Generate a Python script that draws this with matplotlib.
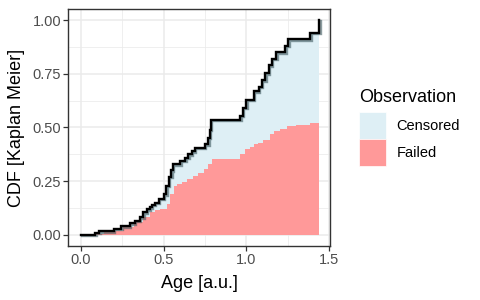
import numpy as np
import matplotlib
matplotlib.use("Agg")
from matplotlib import pyplot as plt
from matplotlib.patches import Patch
import matplotlib.patheffects as pe

plt.rcParams['font.family'] = ['Liberation Sans', 'DejaVu Sans']

km_time = [0.0, 0.088, 0.11, 0.197, 0.245, 0.296, 0.326, 0.356, 0.376, 0.397,
           0.417, 0.43, 0.447, 0.469, 0.50, 0.515, 0.53, 0.545, 0.555, 0.60,
           0.63, 0.65, 0.67, 0.69, 0.75, 0.77, 0.78, 0.786, 0.963, 0.979,
           0.999, 1.043, 1.073, 1.094, 1.114, 1.134, 1.154, 1.18, 1.234, 1.254,
           1.385, 1.44]
km_cdf = [0.0, 0.009, 0.017, 0.028, 0.040, 0.054, 0.066, 0.082, 0.105, 0.120,
          0.128, 0.140, 0.151, 0.167, 0.19, 0.23, 0.27, 0.30, 0.329, 0.344,
          0.36, 0.375, 0.39, 0.406, 0.421, 0.452, 0.49, 0.535, 0.553, 0.591,
          0.63, 0.668, 0.69, 0.72, 0.753, 0.79, 0.82, 0.849, 0.88, 0.91,
          0.94, 1.0]

# part of the CDF due to failed units
fail_time = [0.0, 0.076, 0.137, 0.2, 0.257, 0.318, 0.378, 0.419, 0.45, 0.479,
             0.519, 0.54, 0.56, 0.58, 0.61, 0.64, 0.68, 0.71, 0.741, 0.765,
             0.79, 0.963, 0.993, 1.02, 1.043, 1.07, 1.103, 1.144, 1.164, 1.204,
             1.245, 1.3, 1.385, 1.44]
fail_cdf = [0.0, 0.005, 0.012, 0.02, 0.035, 0.058, 0.082, 0.105, 0.115, 0.123,
            0.144, 0.19, 0.23, 0.236, 0.245, 0.259, 0.275, 0.29, 0.306, 0.33,
            0.352, 0.375, 0.398, 0.41, 0.421, 0.43, 0.444, 0.468, 0.483, 0.491,
            0.506, 0.512, 0.519, 0.52]

x_ticks = [0.0, 0.5, 1.0, 1.5]
y_ticks = [0.0, 0.25, 0.5, 0.75, 1.0]
groups = ['Censored', 'Failed']
colors = {'Censored': '#DEEFF5', 'Failed': '#FF9999'}

fig = plt.figure(figsize=(4.8, 3), dpi=100)
ax = fig.add_axes([0.1427, 0.181, 0.6875 - 0.1427, 0.969 - 0.181])

t = np.array(km_time)
c = np.array(km_cdf)
# blue area stops below the final jump to 1
ax.fill_between(t, np.r_[c[:-1], c[-2]], step='post', color=colors['Censored'], lw=0)
ax.fill_between(fail_time, fail_cdf, step='post', color=colors['Failed'], lw=0)
ax.step(t, c, where='post', color='black', lw=1.7, solid_joinstyle='miter',
        path_effects=[pe.SimpleLineShadow(offset=(1, -1), shadow_color='#3f5a60', alpha=0.6),
                      pe.Normal()])

ax.set_xlim(-0.075, 1.505)
ax.set_ylim(-0.05, 1.05)
ax.set_xticks(x_ticks)
ax.set_xticklabels(['%.1f' % v for v in x_ticks])
ax.set_yticks(y_ticks)
ax.set_yticklabels(['%.2f' % v for v in y_ticks])
ax.set_xticks([0.25, 0.75, 1.25], minor=True)
ax.set_yticks([0.125, 0.375, 0.625, 0.875], minor=True)
ax.grid(which='major', color='#EBEBEB', lw=1.1)
ax.grid(which='minor', color='#EBEBEB', lw=0.55)
ax.set_axisbelow(True)
for s in ax.spines.values():
    s.set_color('#333333')
    s.set_linewidth(1.0)
ax.tick_params(which='major', length=3.3, width=0.9, color='#333333',
               labelsize=10.5, labelcolor='#4D4D4D', pad=2)
ax.tick_params(which='minor', length=0)

ax.set_xlabel('Age [a.u.]', fontsize=13, labelpad=6)
ax.set_ylabel('CDF [Kaplan Meier]', fontsize=13, labelpad=5)

handles = [Patch(facecolor=colors[g], edgecolor='white', lw=0.5) for g in groups]
leg = ax.legend(handles, groups, title='Observation', loc='center left',
                bbox_to_anchor=(1.112, 0.5), frameon=False, fontsize=10.5,
                title_fontsize=13, handlelength=1.8, handleheight=2.5,
                labelspacing=0.0, handletextpad=0.75, borderpad=0,
                borderaxespad=0)
leg._legend_box.align = 'left'
leg._legend_box.sep = 4

fig.savefig('out.png', dpi=100)
